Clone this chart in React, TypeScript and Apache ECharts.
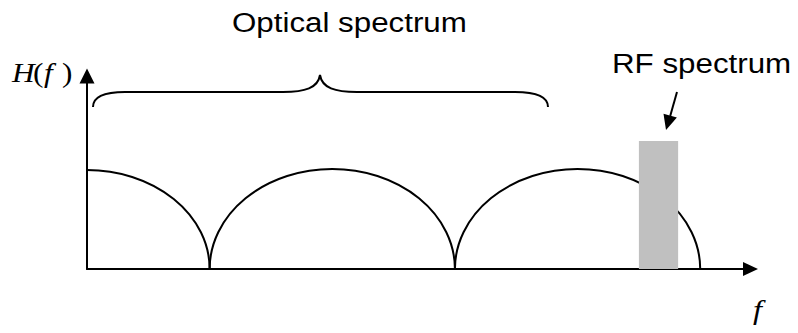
import React, { useEffect, useRef } from "react";
import * as echarts from "echarts";

// Axis domain (normalized frequency / normalized magnitude)
const X_MIN = 0;
const X_MAX = 5.41;
const Y_MIN = 0;
const Y_MAX = 1.93;

// Optical spectrum lobes: centre, half-width, peak height
const archCenters = [0, 2, 4];
const archHalfWidths = [1, 1, 1];
const archHeights = [0.99, 1.0, 1.0];

// RF spectrum band: start, end, level
const rfStart = [4.5];
const rfEnd = [4.82];
const rfLevel = [1.28];

// Labels
const opticalLabel = "Optical spectrum";
const rfLabel = "RF spectrum";

const SANS = "'Liberation Sans', Arial, sans-serif";
const SERIF = "'Liberation Serif', 'Times New Roman', serif";
const SX = 1.16;

echarts.graphic.registerShape(
  "brace",
  echarts.graphic.extendPath(
    "M93,107 C93,97 103,92 125,92 L283,92 C305,92 318,88 320,75 C322,88 335,92 357,92 L515,92 C537,92 548,97 548,107",
    {}
  )
);

export default function App() {
  const ref = useRef<HTMLDivElement>(null);

  useEffect(() => {
    if (!ref.current) return;
    const chart = echarts.init(ref.current, undefined, { renderer: "svg" });

    const archData = archCenters.map((c, i) => [c, archHalfWidths[i], archHeights[i]]);
    const rfData = rfStart.map((s, i) => [s, rfEnd[i], rfLevel[i]]);

    const axisCommon = {
      type: "value" as const,
      axisLine: {
        show: true,
        onZero: false,
        symbol: ["none", "triangle"],
        lineStyle: { color: "#000", width: 2 },
      },
      axisTick: { show: false },
      axisLabel: { show: false },
      splitLine: { show: false },
    };

    const textEl = (
      text: string,
      x: number,
      y: number,
      fontSize: number,
      family: string,
      italic = false
    ) => ({
      type: "text",
      x,
      y,
      scaleX: SX,
      z: 20,
      style: {
        text,
        fontSize,
        fontFamily: family,
        fontStyle: italic ? "italic" : "normal",
        fill: "#000",
        align: "left",
        verticalAlign: "middle",
      },
    });

    chart.setOption({
      animation: false,
      backgroundColor: "#fff",
      grid: { left: 87, right: 47.5, top: 76, bottom: 64, containLabel: false },
      xAxis: {
        ...axisCommon,
        min: X_MIN,
        max: X_MAX,
        axisLine: { ...axisCommon.axisLine, symbolSize: [14, 15] },
      },
      yAxis: {
        ...axisCommon,
        min: Y_MIN,
        max: Y_MAX,
        axisLine: { ...axisCommon.axisLine, symbolSize: [15, 15] },
      },
      series: [
        {
          type: "custom",
          data: archData,
          encode: { x: 0, y: 2 },
          z: 2,
          renderItem: (params: any, api: any) => {
            const c = api.value(0);
            const hw = api.value(1);
            const h = api.value(2);
            const top = api.coord([c, h]);
            const right = api.coord([c + hw, 0]);
            const rx = right[0] - top[0];
            const ry = right[1] - top[1];
            let d: string;
            if (c - hw < X_MIN) {
              d = `M${top[0]},${top[1]} A${rx},${ry} 0 0 1 ${right[0]},${right[1]}`;
            } else {
              const left = api.coord([c - hw, 0]);
              d = `M${left[0]},${left[1]} A${rx},${ry} 0 0 1 ${top[0]},${top[1]} A${rx},${ry} 0 0 1 ${right[0]},${right[1]}`;
            }
            return {
              type: "path",
              shape: { pathData: d },
              style: { fill: "none", stroke: "#000", lineWidth: 2 },
            };
          },
        },
        {
          type: "custom",
          data: rfData,
          encode: { x: [0, 1], y: 2 },
          z: 3,
          renderItem: (params: any, api: any) => {
            const p0 = api.coord([api.value(0), api.value(2)]);
            const p1 = api.coord([api.value(1), 0]);
            return {
              type: "rect",
              shape: { x: p0[0], y: p0[1], width: p1[0] - p0[0], height: p1[1] - p0[1] },
              style: { fill: "#c0c0c0" },
            };
          },
        },
      ],
      graphic: [
        {
          type: "brace",
          x: 0,
          y: 0,
          z: 20,
          style: { fill: "none", stroke: "#000", lineWidth: 2 },
        },
        {
          type: "line",
          z: 20,
          shape: { x1: 677, y1: 92, x2: 670.2, y2: 116 },
          style: { stroke: "#000", lineWidth: 2 },
        },
        {
          type: "polygon",
          z: 20,
          shape: { points: [[666, 130], [676.9, 117.5], [663.5, 113.7]] },
          style: { fill: "#000" },
        },
        textEl(opticalLabel, 232, 22.5, 27, SANS),
        textEl(rfLabel, 612, 64, 27, SANS),
        textEl("H", 12, 73, 27, SERIF, true),
        textEl("(", 33, 73, 27, SERIF),
        textEl("f", 44, 73, 27, SERIF, true),
        textEl(")", 62, 73, 27, SERIF),
        textEl("f", 753, 310, 28, SERIF, true),
      ],
    });

    return () => chart.dispose();
  }, []);

  return (
    <div
      ref={ref}
      style={{ position: "fixed", left: 0, top: 0, width: 798, height: 333, background: "#fff" }}
    />
  );
}
